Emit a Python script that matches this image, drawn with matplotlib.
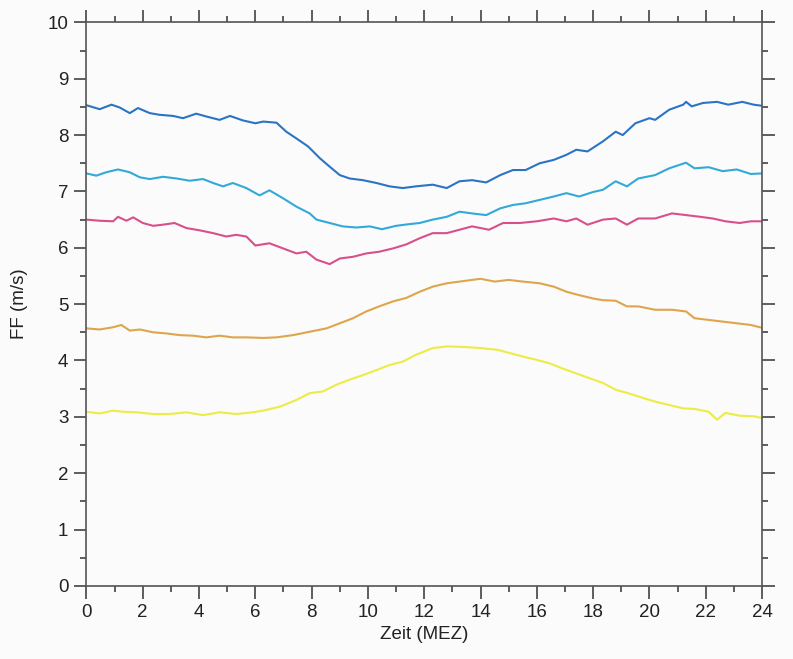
import matplotlib
matplotlib.use("Agg")
import matplotlib.pyplot as plt
from matplotlib.ticker import MultipleLocator

plt.rcParams['font.family'] = ['Liberation Sans', 'DejaVu Sans']

# ---- data (hour, FF m/s) ----
blue_h = [0.0, 0.47, 0.89, 1.18, 1.54, 1.83, 2.25, 2.6, 3.08, 3.43, 3.9, 4.26, 4.73, 5.1, 5.56, 6.0,
          6.28, 6.75, 7.1, 7.46, 7.87, 8.29, 8.64, 9.0, 9.35, 9.82, 10.3, 10.77, 11.24, 11.7,
          12.3, 12.8, 13.25, 13.7, 14.2, 14.7, 15.15, 15.6, 16.1, 16.6, 17.05, 17.4, 17.8,
          18.35, 18.8, 19.05, 19.5, 20.0, 20.2, 20.7, 21.2, 21.3, 21.5, 21.9, 22.4, 22.8, 23.3, 23.7, 24.0]
blue_v = [8.53, 8.46, 8.54, 8.49, 8.39, 8.48, 8.39, 8.36, 8.34, 8.30, 8.38, 8.33, 8.27, 8.34, 8.26, 8.21,
          8.24, 8.22, 8.06, 7.94, 7.80, 7.59, 7.44, 7.29, 7.23, 7.20, 7.15, 7.09, 7.06, 7.09,
          7.12, 7.06, 7.18, 7.20, 7.16, 7.29, 7.38, 7.38, 7.50, 7.56, 7.65, 7.74, 7.71,
          7.89, 8.06, 8.00, 8.21, 8.30, 8.27, 8.45, 8.54, 8.59, 8.51, 8.57, 8.59, 8.54, 8.59, 8.54, 8.52]

cyan_h = [0.0, 0.35, 0.7, 1.12, 1.54, 1.9, 2.25, 2.72, 3.2, 3.67, 4.14, 4.5, 4.85, 5.2, 5.68, 6.15,
          6.5, 6.98, 7.46, 7.93, 8.17, 8.64, 9.1, 9.59, 10.06, 10.5, 11.0, 11.47, 11.84, 12.3,
          12.8, 13.25, 13.7, 14.2, 14.7, 15.15, 15.6, 16.1, 16.6, 17.05, 17.5, 18.0, 18.35,
          18.8, 19.2, 19.6, 20.2, 20.7, 21.3, 21.6, 22.1, 22.6, 23.1, 23.6, 24.0]
cyan_v = [7.32, 7.28, 7.34, 7.39, 7.34, 7.25, 7.22, 7.26, 7.23, 7.19, 7.22, 7.15, 7.09, 7.15, 7.06, 6.93,
          7.02, 6.88, 6.73, 6.61, 6.50, 6.44, 6.38, 6.36, 6.38, 6.33, 6.39, 6.42, 6.44, 6.50,
          6.55, 6.64, 6.61, 6.58, 6.70, 6.76, 6.79, 6.85, 6.91, 6.97, 6.91, 6.99, 7.03,
          7.18, 7.09, 7.23, 7.29, 7.41, 7.51, 7.41, 7.43, 7.36, 7.39, 7.31, 7.32]

pink_h = [0.0, 0.47, 0.95, 1.12, 1.42, 1.66, 2.0, 2.37, 2.72, 3.13, 3.55, 4.02, 4.5, 4.97, 5.32, 5.68,
          6.0, 6.5, 6.98, 7.46, 7.81, 8.17, 8.64, 9.0, 9.47, 9.94, 10.4, 10.9, 11.36, 11.84,
          12.3, 12.8, 13.25, 13.7, 14.3, 14.8, 15.4, 16.0, 16.6, 17.05, 17.4, 17.8, 18.35,
          18.8, 19.2, 19.6, 20.2, 20.8, 21.3, 21.8, 22.25, 22.7, 23.2, 23.6, 24.0]
pink_v = [6.50, 6.48, 6.47, 6.55, 6.48, 6.54, 6.44, 6.39, 6.41, 6.44, 6.35, 6.31, 6.26, 6.20, 6.23, 6.20,
          6.04, 6.08, 5.99, 5.90, 5.93, 5.79, 5.71, 5.81, 5.84, 5.90, 5.93, 5.99, 6.06, 6.17,
          6.26, 6.26, 6.32, 6.38, 6.32, 6.44, 6.44, 6.47, 6.52, 6.47, 6.52, 6.41, 6.50,
          6.52, 6.41, 6.52, 6.52, 6.61, 6.58, 6.55, 6.52, 6.47, 6.44, 6.47, 6.47]

orange_h = [0.0, 0.47, 0.95, 1.24, 1.54, 1.9, 2.37, 2.84, 3.31, 3.79, 4.26, 4.73, 5.2, 5.68, 6.28,
            6.75, 7.34, 7.93, 8.53, 9.0, 9.47, 9.94, 10.4, 10.9, 11.36, 11.84, 12.3, 12.8, 13.4,
            14.0, 14.5, 15.0, 15.5, 16.1, 16.6, 17.05, 17.5, 18.0, 18.35, 18.8, 19.2, 19.6,
            20.2, 20.8, 21.3, 21.6, 22.1, 22.6, 23.1, 23.6, 24.0]
orange_v = [4.57, 4.55, 4.59, 4.63, 4.53, 4.55, 4.50, 4.48, 4.45, 4.44, 4.41, 4.44, 4.41, 4.41, 4.40,
            4.41, 4.45, 4.51, 4.57, 4.66, 4.75, 4.87, 4.96, 5.05, 5.11, 5.22, 5.31, 5.37, 5.41,
            5.45, 5.40, 5.43, 5.40, 5.37, 5.31, 5.22, 5.16, 5.10, 5.07, 5.06, 4.96, 4.96,
            4.90, 4.90, 4.87, 4.75, 4.72, 4.69, 4.66, 4.63, 4.58]

yellow_h = [0.0, 0.47, 0.95, 1.3, 1.78, 2.37, 2.96, 3.55, 4.14, 4.73, 5.32, 5.9, 6.28, 6.87, 7.46,
            7.93, 8.4, 8.88, 9.35, 9.82, 10.3, 10.77, 11.24, 11.7, 12.3, 12.8, 13.4, 14.0, 14.6,
            15.05, 15.5, 16.0, 16.45, 16.9, 17.4, 17.9, 18.35, 18.8, 19.3, 19.8, 20.2, 20.7,
            21.2, 21.6, 22.1, 22.4, 22.7, 23.2, 23.7, 24.0]
yellow_v = [3.09, 3.06, 3.11, 3.09, 3.08, 3.05, 3.05, 3.08, 3.03, 3.08, 3.05, 3.08, 3.11, 3.18, 3.30,
            3.42, 3.45, 3.57, 3.66, 3.74, 3.83, 3.92, 3.98, 4.10, 4.22, 4.25, 4.24, 4.22, 4.19,
            4.13, 4.07, 4.01, 3.95, 3.86, 3.77, 3.68, 3.60, 3.48, 3.41, 3.33, 3.27, 3.21,
            3.15, 3.14, 3.09, 2.95, 3.07, 3.02, 3.01, 2.98]

series = [
    (blue_h, blue_v, '#2b74c4'),
    (cyan_h, cyan_v, '#33a9d8'),
    (pink_h, pink_v, '#d8508a'),
    (orange_h, orange_v, '#dea54c'),
    (yellow_h, yellow_v, '#ecec46'),
]

fig = plt.figure(figsize=(7.93, 6.59), dpi=100)
fig.patch.set_facecolor('#fbfbfb')
ax = fig.add_axes([0.109, 0.111, 0.852, 0.855])
ax.set_facecolor('#fbfbfb')

for h, v, c in series:
    ax.plot(h, v, color=c, lw=1.5)

ax.set_xlim(0, 24)
ax.set_ylim(0, 10)
ax.xaxis.set_major_locator(MultipleLocator(2))
ax.xaxis.set_minor_locator(MultipleLocator(1))
ax.yaxis.set_major_locator(MultipleLocator(1))
ax.yaxis.set_minor_locator(MultipleLocator(0.5))

for s in ax.spines.values():
    s.set_color('#555555')
    s.set_linewidth(1.2)

ax.tick_params(which='both', direction='out', top=True, right=True,
               color='#333333', width=1.1, labelsize=13.5, labelcolor='#222222')
ax.tick_params(which='major', length=9, pad=4)
ax.tick_params(which='minor', length=4)
ax.tick_params(labeltop=False, labelright=False)

ax.set_xlabel('Zeit (MEZ)', fontsize=13.5, color='#222222', labelpad=4)
ax.set_ylabel('FF (m/s)', fontsize=13.5, color='#222222', labelpad=14)

fig.savefig('out.png', dpi=100, facecolor=fig.get_facecolor())
